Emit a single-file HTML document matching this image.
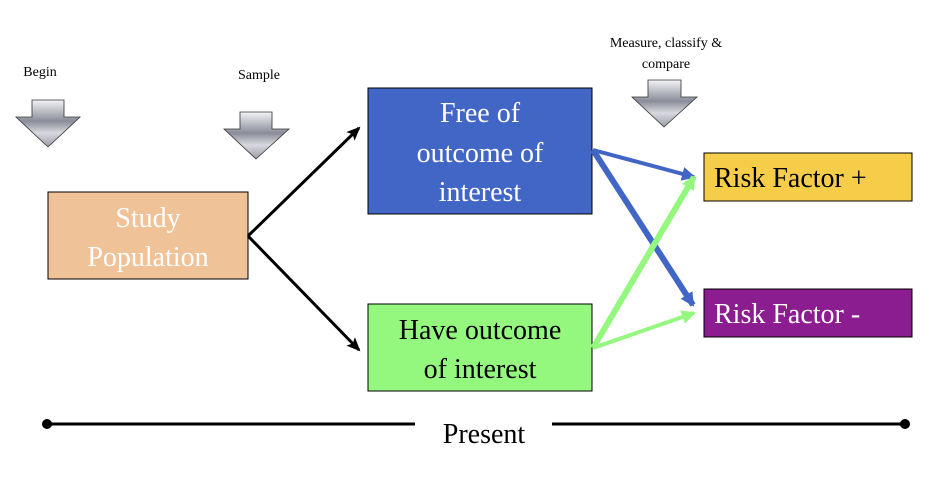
<!DOCTYPE html>
<html><head><style>
html,body{margin:0;padding:0;background:#fff;width:946px;height:486px;overflow:hidden}
svg{display:block}
text{font-family:"Liberation Serif",serif}
</style></head><body>
<svg width="946" height="486" viewBox="0 0 946 486" xmlns="http://www.w3.org/2000/svg">
<defs>
<linearGradient id="g" x1="0" y1="0" x2="0" y2="1">
<stop offset="0" stop-color="#f4f4f6"/><stop offset="0.45" stop-color="#8a8d99"/><stop offset="0.7" stop-color="#d8d9de"/><stop offset="1" stop-color="#9a9ca6"/>
</linearGradient>
<marker id="ak" markerWidth="14" markerHeight="12" refX="12" refY="6" orient="auto" markerUnits="userSpaceOnUse"><path d="M0,0 L14,6 L0,12 L3,6 Z" fill="#000"/></marker>
<marker id="ab" markerWidth="14" markerHeight="14" refX="12" refY="7" orient="auto" markerUnits="userSpaceOnUse"><path d="M0,0 L14,7 L0,14 Z" fill="#4266c6"/></marker>
<marker id="ag" markerWidth="14" markerHeight="14" refX="12" refY="7" orient="auto" markerUnits="userSpaceOnUse"><path d="M0,0 L14,7 L0,14 Z" fill="#94f77e"/></marker>
</defs>
<text x="40" y="76" font-size="14" text-anchor="middle">Begin</text>
<text x="259" y="79" font-size="14" text-anchor="middle">Sample</text>
<text x="666" y="47" font-size="14" text-anchor="middle">Measure, classify &amp;</text>
<text x="666" y="68" font-size="14" text-anchor="middle">compare</text>
<path d="M32,100 H64 V117 H80 L48,147 L16,117 H32 Z" fill="url(#g)" stroke="#333" stroke-width="0.8"/>
<path d="M240,112 H272 V129 H289 L256,159 L224,129 H240 Z" fill="url(#g)" stroke="#333" stroke-width="0.8"/>
<path d="M648,80 H681 V97 H697 L664,127 L632,97 H648 Z" fill="url(#g)" stroke="#333" stroke-width="0.8"/>
<rect x="48" y="192" width="200" height="87" fill="#f0c298" stroke="#000" stroke-width="1"/>
<text x="148" y="227" font-size="28" fill="#fff" text-anchor="middle">Study</text>
<text x="148" y="266" font-size="28" fill="#fff" text-anchor="middle">Population</text>
<rect x="368" y="88" width="224" height="126" fill="#4266c6" stroke="#000" stroke-width="1"/>
<text x="480" y="122" font-size="28" fill="#fff" text-anchor="middle">Free of</text>
<text x="480" y="162" font-size="28" fill="#fff" text-anchor="middle">outcome of</text>
<text x="480" y="201" font-size="28" fill="#fff" text-anchor="middle">interest</text>
<rect x="368" y="304" width="224" height="87" fill="#94f77e" stroke="#000" stroke-width="1"/>
<text x="480" y="339" font-size="28" fill="#000" text-anchor="middle">Have outcome</text>
<text x="480" y="378" font-size="28" fill="#000" text-anchor="middle">of interest</text>
<rect x="704" y="153" width="208" height="48" fill="#f6cd48" stroke="#000" stroke-width="1"/>
<text x="714" y="187" font-size="28" fill="#000">Risk Factor +</text>
<rect x="704" y="289" width="208" height="48" fill="#8c1d91" stroke="#000" stroke-width="1"/>
<text x="714" y="323" font-size="28" fill="#fff">Risk Factor -</text>
<line x1="248" y1="236" x2="359" y2="128" stroke="#000" stroke-width="3" marker-end="url(#ak)"/>
<line x1="248" y1="236" x2="359" y2="350" stroke="#000" stroke-width="3" marker-end="url(#ak)"/>
<line x1="593" y1="150" x2="694" y2="177" stroke="#4266c6" stroke-width="4" marker-end="url(#ab)"/>
<line x1="593" y1="150" x2="693" y2="305" stroke="#4266c6" stroke-width="6" marker-end="url(#ab)"/>
<line x1="593" y1="348" x2="694" y2="313" stroke="#94f77e" stroke-width="4" marker-end="url(#ag)"/>
<line x1="593" y1="348" x2="694" y2="177" stroke="#94f77e" stroke-width="6" marker-end="url(#ag)"/>
<line x1="47" y1="424" x2="415" y2="424" stroke="#000" stroke-width="3"/>
<line x1="552" y1="424" x2="905" y2="424" stroke="#000" stroke-width="3"/>
<circle cx="47" cy="424" r="5" fill="#000"/>
<circle cx="905" cy="424" r="5" fill="#000"/>
<text x="484" y="443" font-size="28" text-anchor="middle">Present</text>
</svg>
</body></html>
